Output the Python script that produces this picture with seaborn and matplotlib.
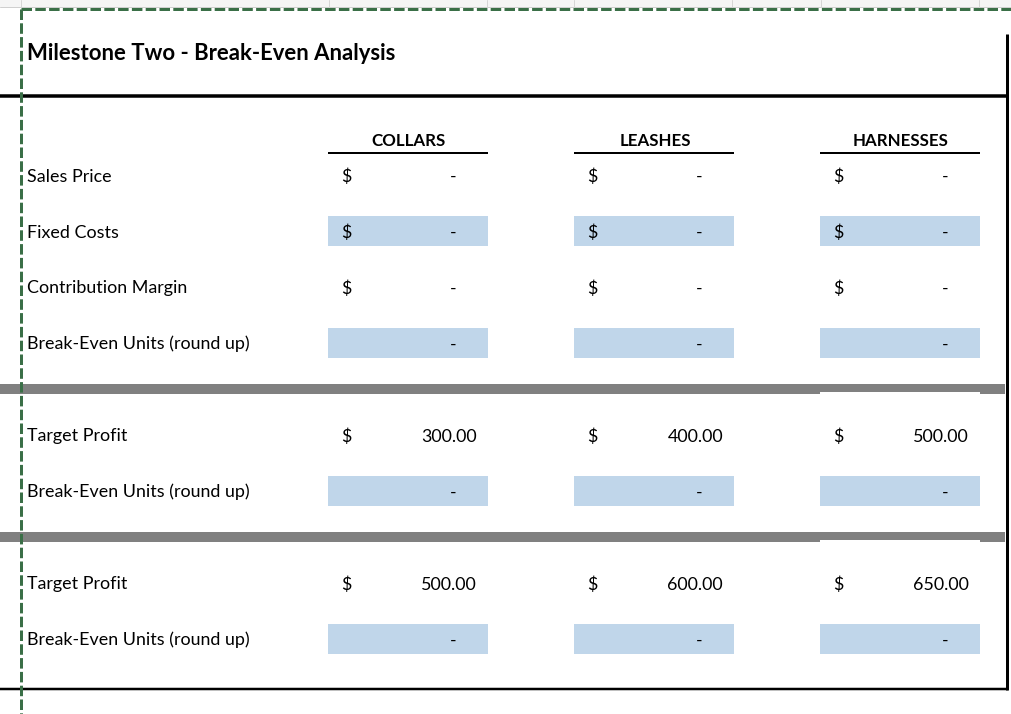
import matplotlib
matplotlib.use("Agg")
import matplotlib.pyplot as plt
import seaborn as sns
from matplotlib.patches import Rectangle

# ---------------- data ----------------
title = "Milestone Two - Break-Even Analysis"
products = ["COLLARS", "LEASHES", "HARNESSES"]
row_labels = ["Sales Price", "Fixed Costs", "Contribution Margin",
              "Break-Even Units (round up)",
              "Target Profit", "Break-Even Units (round up)",
              "Target Profit", "Break-Even Units (round up)"]
sales_price = [0, 0, 0]
fixed_costs = [0, 0, 0]
contribution_margin = [0, 0, 0]
break_even_units = [0, 0, 0]
target_profit_1 = [300, 400, 500]
break_even_units_1 = [0, 0, 0]
target_profit_2 = [500, 600, 650]
break_even_units_2 = [0, 0, 0]
# whether each row shows a "$" sign / is a highlighted input cell
row_dollar = [True, True, True, False, True, False, True, False]
row_shaded = [False, True, False, True, False, True, False, True]

rows_values = [sales_price, fixed_costs, contribution_margin, break_even_units,
               target_profit_1, break_even_units_1, target_profit_2, break_even_units_2]

# ---------------- layout (pixels) ----------------
W, H = 1012, 714
row_y = [175, 231, 287, 343, 435, 491, 583, 639]
col_left = [328, 574, 820]
col_w = 160
cell_h = 30
GREEN = "#3a6f47"
BLUE = "#c0d6ea"
GRAY = "#808080"
FONT = ["Lato", "DejaVu Sans"]
FS = 12.9

sns.set_theme(style="white")
plt.rcParams["font.family"] = FONT
plt.rcParams["text.color"] = "black"

fig = plt.figure(figsize=(W / 100, H / 100), dpi=100)
ax = fig.add_axes([0, 0, 1, 1])
ax.set_xlim(0, W)
ax.set_ylim(H, 0)
ax.axis("off")

px = 0.72  # points per pixel

# spreadsheet header strip at top
ax.add_patch(Rectangle((0, 0), W, 7, facecolor="#f5f5f5", edgecolor="none", zorder=1))
ax.plot([0, W], [6.5, 6.5], color="#cfcfcf", lw=1 * px, zorder=2)
for gx in [21, 329, 487, 574, 732, 821, 979]:
    ax.plot([gx, gx], [0, 6.5], color="#d6d6d6", lw=1 * px, zorder=2)

# title
ax.text(27, 60, title, fontsize=15.9, fontweight="bold", color="black",
        ha="left", va="baseline", zorder=5)

# black frame lines
ax.plot([0, 1007], [96, 96], color="black", lw=3.5 * px, solid_capstyle="butt", zorder=4)
ax.plot([1007, 1007], [34, 690], color="black", lw=3 * px, solid_capstyle="butt", zorder=4)
ax.plot([0, 1008.5], [688.5, 688.5], color="black", lw=2.5 * px, solid_capstyle="butt", zorder=4)

# gray separator bands
for top, hcol in [(384, 8), (532, 8)]:
    ax.add_patch(Rectangle((0, top), 1005.5, 10, facecolor=GRAY, edgecolor="none", zorder=3))
    ax.add_patch(Rectangle((col_left[2], top + hcol), col_w, 10 - hcol,
                           facecolor="white", edgecolor="none", zorder=3.1))

# column headers
for cl, name in zip(col_left, products):
    ax.text(cl + col_w / 2 + 1, 146, name, fontsize=12.2, fontweight="bold", color="black",
            ha="center", va="baseline", zorder=5)
    ax.plot([cl, cl + col_w], [153, 153], color="black", lw=2 * px,
            solid_capstyle="butt", zorder=4)

# rows
for label, y, vals, dollar, shaded in zip(row_labels, row_y, rows_values, row_dollar, row_shaded):
    ax.text(27, y + 6.5, label, fontsize=FS, color="black", ha="left", va="baseline", zorder=5)
    for cl, v in zip(col_left, vals):
        if shaded:
            ax.add_patch(Rectangle((cl, y - 15), col_w, cell_h, facecolor=BLUE,
                                   edgecolor="none", zorder=2))
        if dollar:
            ax.text(cl + 13, y + 6.5, "$", fontsize=FS, color="black",
                    ha="left", va="baseline", zorder=5)
        if v == 0:
            ax.text(cl + 125, y + 6.5, "-", fontsize=FS, color="black",
                    ha="center", va="baseline", zorder=5)
        else:
            ax.text(cl + 149, y + 6.5, f"{v:,.2f}", fontsize=FS, color="black",
                    ha="right", va="baseline", zorder=5)

# green dashed print-area border
ax.plot([21, W], [9, 9], color=GREEN, lw=3 * px, dashes=(3.5, 1.1), zorder=6)
ax.plot([21, 21], [9, H], color=GREEN, lw=3 * px, dashes=(3.5, 1.1), zorder=6)

fig.savefig("out.png", dpi=100)
